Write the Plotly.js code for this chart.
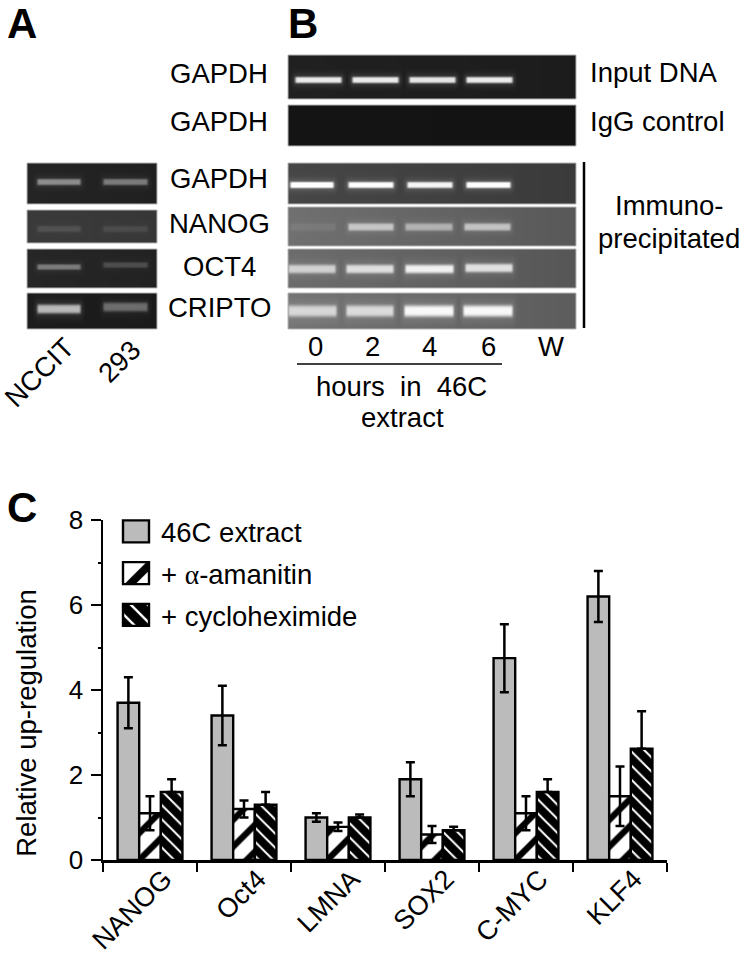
<!DOCTYPE html>
<html><head><meta charset="utf-8">
<script src="https://cdn.plot.ly/plotly-3.0.1.min.js"></script>
<style>html,body{margin:0;padding:0;background:#fff}#g{width:744px;height:956px}</style>
</head><body><div id="g"></div>
<script>
// ---- Panel C data ----
const genes = ['NANOG','Oct4','LMNA','SOX2','C-MYC','KLF4'];
const extract46C = [3.7,3.4,1.0,1.9,4.75,6.2];
const extractErr = [0.6,0.7,0.1,0.4,0.8,0.6];
const amanitin = [1.1,1.2,0.78,0.6,1.1,1.5];
const amanitinErr = [0.4,0.2,0.1,0.2,0.4,0.7];
const cyclohex = [1.6,1.3,1.0,0.7,1.6,2.62];
const cyclohexErr = [0.3,0.3,0.07,0.08,0.3,0.88];
const cyclohexErrDown = [0,0,0,0,0,0];
const seriesNames = ['46C extract','+ <span style="font-family:Liberation Serif">α</span>-amanitin','+ cycloheximide'];

// ---- Gel band brightness per lane (0-1) ----
const aGapdh = [0.40,0.34];
const aNanog = [0.10,0.08];
const aOct4  = [0.33,0.16];
const aCripto= [0.58,0.30];
const bInput = [0.76,0.76,0.74,0.76];
const bIgg   = [0,0,0,0];
const bGapdh = [0.90,0.84,0.80,0.86];
const bNanog = [0.07,0.52,0.42,0.52];
const bOct4  = [0.58,0.66,0.76,0.68];
const bCripto= [0.60,0.63,0.80,0.80];

// Gel drawing geometry (page pixels): left,right,top,bottom, backgroundLeft, backgroundRight, band half-thickness
const laneA = [[37,80],[103,147]];
const laneB1 = [[295,341],[352,398],[409,455],[466,512]];
const laneB3 = [[290,333],[348,393],[407,452],[466,510]];
const laneB4 = [[290,335],[348,393],[405,452],[464,510]];
const laneB5 = [[288,335],[346,393],[405,453],[465,512]];
const laneB6 = [[288,336],[346,393],[404,453],[463,512]];
const gels = [
 {x:[27,157],y:[163,204],bg:[36,32],t:3.2,c:[182,182],b:aGapdh,l:laneA},
 {x:[27,157],y:[210,243],bg:[58,55],t:3.2,c:[229,229],b:aNanog,l:laneA},
 {x:[27,157],y:[249,288],bg:[38,34],t:2.8,c:[267,265],b:aOct4,l:laneA},
 {x:[27,157],y:[293,329],bg:[28,26],t:4.6,c:[309,307],b:aCripto,l:laneA},
 {x:[288,576],y:[55,99],bg:[32,28],t:3.2,c:[80,80,80,80],b:bInput,l:laneB1},
 {x:[288,576],y:[105,146],bg:[20,19],t:2.8,c:[125,125,125,125],b:bIgg,l:laneB1},
 {x:[288,576],y:[163,204],bg:[70,58],t:3.2,c:[185,185,185,185],b:bGapdh,l:laneB3},
 {x:[288,576],y:[207,246],bg:[112,88],t:3.8,c:[227,227,227,227],b:bNanog,l:laneB4},
 {x:[288,576],y:[249,288],bg:[108,86],t:4.4,c:[269,269,269,268],b:bOct4,l:laneB5},
 {x:[288,576],y:[293,329],bg:[115,92],t:5.8,c:[311,311,311,311],b:bCripto,l:laneB6}
];
const greys = [[0,'#000'],[1,'#fff']];

function gelTrace(g){
  const z=[];
  for(let py=g.y[0];py<g.y[1];py++){
    const row=[];
    for(let px=g.x[0];px<g.x[1];px++){
      const u=(px-g.x[0])/(g.x[1]-g.x[0]);
      let v=g.bg[0]+(g.bg[1]-g.bg[0])*u;
      g.l.forEach((lane,i)=>{
        const a=g.b[i]*(255-v);
        const fx=Math.min(1,Math.max(0,(px-lane[0]+1.5)/3))*Math.min(1,Math.max(0,(lane[1]-px+1.5)/3));
        const gx=Math.min(1,Math.max(0,(px-lane[0]+5)/5))*Math.min(1,Math.max(0,(lane[1]-px+5)/5));
        const d=(py+0.5-g.c[i])/g.t;
        v+=a*fx*Math.exp(-(d*d*d*d))+0.2*a*gx*Math.exp(-(d*d)/3.5);
      });
      row.push(Math.min(255,v));
    }
    z.push(row);
  }
  return {type:'heatmap',xaxis:'x2',yaxis:'y2',z:z,x0:g.x[0]+0.5,dx:1,y0:g.y[0]+0.5,dy:1,
    colorscale:greys,zmin:0,zmax:255,showscale:false,hoverinfo:'skip'};
}

function barTrace(name,vals,err,errMinus,fill,pattern){
  return {type:'bar',name:name,legendgroup:name,x:genes,y:vals,xaxis:'x',yaxis:'y',
    marker:{color:fill,line:{color:'#000',width:2.4},pattern:pattern},
    error_y:{type:'data',symmetric:false,array:err,arrayminus:errMinus,color:'#000',thickness:2.5,width:4.5}};
}
const traces = gels.map(gelTrace).concat([
  barTrace(seriesNames[0],extract46C,extractErr,extractErr,'#bbbbbb',{shape:''}),
  barTrace(seriesNames[1],amanitin,amanitinErr,amanitinErr,'#ffffff',{shape:'/',bgcolor:'#fff',fgcolor:'#000',size:19,solidity:0.33}),
  barTrace(seriesNames[2],cyclohex,cyclohexErr,cyclohexErrDown,'#000000',{shape:'\\',bgcolor:'#000',fgcolor:'#fff',size:10,solidity:0.2})
]);

const F='Liberation Sans';
const TXT=27.5;
// text labels: [text, x, y, anchor, size, weight/angle]
const labels=[
 ['A',22,23,'center',42,0,true],['B',303,23,'center',42,0,true],['C',22,507,'center',42,0,true],
 ['GAPDH',219,73,'center',TXT],['GAPDH',219,121,'center',TXT],['GAPDH',219,178,'center',TXT],
 ['NANOG',219,223,'center',TXT],['OCT4',219,266,'center',TXT],['CRIPTO',219,307,'center',TXT],
 ['Input DNA',588,72,'left',TXT],['IgG control',588,121,'left',TXT],
 ['Immuno-',669,205,'center',TXT],['precipitated',669,238,'center',TXT],
 ['0',315,346,'center',TXT],['2',372,346,'center',TXT],['4',429,346,'center',TXT],['6',488,346,'center',TXT],['W',551,346,'center',TXT],
 ['hours\u00a0\u00a0in\u00a0\u00a046C',401,386,'center',TXT],['extract',402,417,'center',TXT],
 ['NCCIT',39,372,'center',TXT,-45],['293',119,361,'center',TXT,-45]
];
const annotations=labels.map(l=>({xref:'x2',yref:'y2',x:l[1],y:l[2],text:l[6]?'<b>'+l[0]+'</b>':l[0],showarrow:false,
  xanchor:l[3],yanchor:'middle',textangle:l[5]||0,font:{family:F,size:l[4],color:'#000'}}));

const shapes=[
 {type:'line',xref:'x2',yref:'y2',x0:297,x1:502,y0:364,y1:364,line:{color:'#000',width:1.5}},
 {type:'line',xref:'x2',yref:'y2',x0:584,x1:584,y0:162,y1:328,line:{color:'#000',width:2.5}}
].concat(gels.map(g=>({type:'rect',xref:'x2',yref:'y2',x0:g.x[0],x1:g.x[1],y0:g.y[0],y1:g.y[1],line:{color:'#b5b5b5',width:1},fillcolor:'rgba(0,0,0,0)'})));

const layout={
 width:744,height:956,margin:{l:0,r:0,t:0,b:0,autoexpand:false},paper_bgcolor:'#fff',plot_bgcolor:'rgba(0,0,0,0)',
 font:{family:F,color:'#000',size:TXT},
 barmode:'group',bargap:0.31,bargroupgap:0,
 xaxis:{domain:[103/744,667/744],range:[-0.5,5.5],anchor:'y',type:'category',tickson:'boundaries',ticks:'outside',ticklen:9,tickwidth:2.5,tickcolor:'#000',
   showline:true,linecolor:'#000',linewidth:2.5,showgrid:false,zeroline:false,tickangle:-45,tickfont:{family:F,size:27},ticklabelshift:14,ticklabelstandoff:-10},
 yaxis:{domain:[96/956,436/956],range:[0,8],anchor:'x',tickmode:'array',tickvals:[0,2,4,6,8],ticks:'outside',ticklen:10,tickwidth:2.5,tickcolor:'#000',
   minor:{tickmode:'array',tickvals:[1,3,5,7],ticks:'outside',ticklen:3,tickwidth:2,tickcolor:'#000',showgrid:false},
   showline:true,linecolor:'#000',linewidth:2.5,showgrid:false,zeroline:false,tickfont:{family:F,size:26},ticklabelstandoff:2,
   title:{text:'Relative up-regulation',font:{family:F,size:TXT},standoff:14}},
 xaxis2:{domain:[0,1],range:[0,744],anchor:'y2',visible:false,fixedrange:true},
 yaxis2:{domain:[0,1],range:[956,0],anchor:'x2',visible:false,fixedrange:true},
 showlegend:true,
 legend:{x:121/744,y:1-507/956,xanchor:'left',yanchor:'top',bgcolor:'rgba(0,0,0,0)',borderwidth:0,traceorder:'grouped',tracegroupgap:3,font:{family:F,size:TXT}},
 annotations:annotations,shapes:shapes,hovermode:false
};
Plotly.newPlot('g',traces,layout,{staticPlot:true,displayModeBar:false}).then(gd=>{
  const scales=[1,2.4,1.2];
  gd.querySelectorAll('.legend .legendpoints path').forEach((p,i)=>{
    if(!p.getAttribute('d')) return;
    p.setAttribute('d','M8,11H-18V-11H8Z');
    const m=(p.style.fill||'').match(/#([^"')]+)/);
    const pat=m&&document.getElementById(m[1]);
    if(pat&&scales[i]) pat.setAttribute('patternTransform','scale('+scales[i]+')');
  });
  const t=gd.querySelector('.ytitle');
  if(t){ t.setAttribute('transform','translate(-10,33) '+(t.getAttribute('transform')||'')); }
});
</script></body></html>
